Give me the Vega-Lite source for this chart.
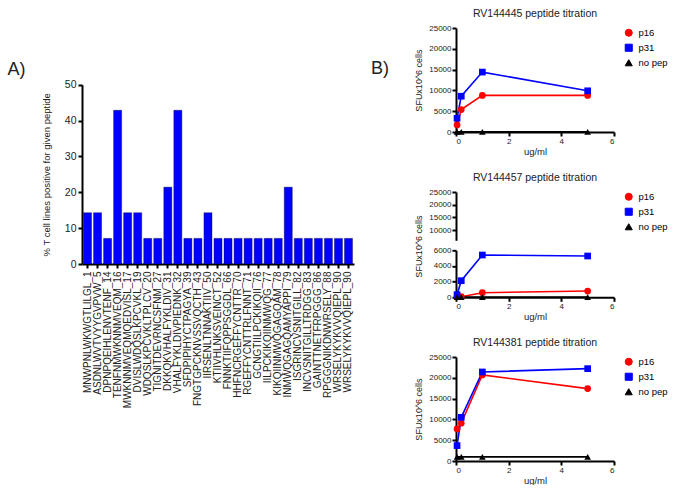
{
  "$schema": "https://vega.github.io/schema/vega-lite/v6.json",
  "padding": {"top": 8, "left": 7, "right": 0, "bottom": 0},
  "config": {
    "font": "Liberation Sans",
    "view": {"stroke": null},
    "axis": {"domainColor": "#000000", "domainWidth": 2, "tickColor": "#000000", "tickWidth": 2, "tickSize": 4, "labelColor": "#222222", "titleColor": "#222222", "titleFontWeight": "normal", "grid": false, "labelFontSize": 8, "titleFontSize": 9, "labelPadding": 1, "titlePadding": 1},
    "title": {"fontSize": 10.5, "fontWeight": "normal", "color": "#222222", "offset": 5},
    "legend": {"labelFontSize": 9.5, "labelColor": "#000000", "title": null, "orient": "right", "offset": 10, "symbolSize": 50, "rowPadding": 3, "labelOffset": 5, "symbolStrokeWidth": 1}
  },
  "datasets": {
    "bars": [
      {"peptide": "MNWPNLWKWGTLILGL_1", "pct": 14.29},
      {"peptide": "ASDNLWVTVYYGVPVW_5", "pct": 14.29},
      {"peptide": "DPNPQEIHLENVTENF_14", "pct": 7.14},
      {"peptide": "TENFNMWKNNMVEQM_16", "pct": 42.86},
      {"peptide": "MWKNNMVEQMQEDVISL_17", "pct": 14.29},
      {"peptide": "DVISLWDQSLKPCVKL_19", "pct": 14.29},
      {"peptide": "WDQSLKPCVKLTPLCV_20", "pct": 7.14},
      {"peptide": "TIGNITDEVRNCSFNM_27", "pct": 7.14},
      {"peptide": "DKKQKVHALFYKLDIV_31", "pct": 21.43},
      {"peptide": "VHALFYKLDIVPIEDNK_32", "pct": 42.86},
      {"peptide": "SFDPIPIHYCTPAGYA_39", "pct": 7.14},
      {"peptide": "FNGTGPCKNVSSVQCTH_43", "pct": 7.14},
      {"peptide": "IIRSENLTNNAKTIIV_50", "pct": 14.29},
      {"peptide": "KTIIVHLNKSVEINCT_52", "pct": 7.14},
      {"peptide": "FNNKTIIFQPPSGGDL_66", "pct": 7.14},
      {"peptide": "HHFNCRGEFFYCNTTR_70", "pct": 7.14},
      {"peptide": "RGEFFYCNTTRLFNNT_71", "pct": 7.14},
      {"peptide": "GCNGTIILPCKIKQII_76", "pct": 7.14},
      {"peptide": "IILPCKIKQIINMWQG_77", "pct": 7.14},
      {"peptide": "KIKQIINMWQGAGQAM_78", "pct": 7.14},
      {"peptide": "INMWQGAGQAMYAPPI_79", "pct": 21.43},
      {"peptide": "ISGRINCVSNITGILL_82", "pct": 7.14},
      {"peptide": "INCVSNITGILLTRDGG_83", "pct": 7.14},
      {"peptide": "GAINTTNETFRPGGG_86", "pct": 7.14},
      {"peptide": "RPGGGNIKDNWRSELY_88", "pct": 7.14},
      {"peptide": "WRSELYKYKVVQIEPL_90", "pct": 7.14},
      {"peptide": " WRSELYKYKVVQIEPL_90", "pct": 7.14}
    ],
    "p1": [
      {"conc": 0.04, "sfu": 1700, "series": "p16"},
      {"conc": 0.2, "sfu": 5400, "series": "p16"},
      {"conc": 1, "sfu": 8800, "series": "p16"},
      {"conc": 5, "sfu": 8800, "series": "p16"},
      {"conc": 0.04, "sfu": 3300, "series": "p31"},
      {"conc": 0.2, "sfu": 8600, "series": "p31"},
      {"conc": 1, "sfu": 14400, "series": "p31"},
      {"conc": 5, "sfu": 9900, "series": "p31"},
      {"conc": 0.04, "sfu": 50, "series": "no pep"},
      {"conc": 0.2, "sfu": 50, "series": "no pep"},
      {"conc": 1, "sfu": 50, "series": "no pep"},
      {"conc": 5, "sfu": 50, "series": "no pep"}
    ],
    "p2": [
      {"conc": 0.04, "sfu": 100, "series": "p16"},
      {"conc": 0.2, "sfu": 80, "series": "p16"},
      {"conc": 1, "sfu": 590, "series": "p16"},
      {"conc": 5, "sfu": 800, "series": "p16"},
      {"conc": 0.04, "sfu": 330, "series": "p31"},
      {"conc": 0.2, "sfu": 2120, "series": "p31"},
      {"conc": 1, "sfu": 5400, "series": "p31"},
      {"conc": 5, "sfu": 5270, "series": "p31"},
      {"conc": 0.04, "sfu": 20, "series": "no pep"},
      {"conc": 0.2, "sfu": 20, "series": "no pep"},
      {"conc": 1, "sfu": 20, "series": "no pep"},
      {"conc": 5, "sfu": 20, "series": "no pep"}
    ],
    "p3": [
      {"conc": 0.04, "sfu": 7700, "series": "p16"},
      {"conc": 0.2, "sfu": 9100, "series": "p16"},
      {"conc": 1, "sfu": 20700, "series": "p16"},
      {"conc": 5, "sfu": 17400, "series": "p16"},
      {"conc": 0.04, "sfu": 3700, "series": "p31"},
      {"conc": 0.2, "sfu": 10500, "series": "p31"},
      {"conc": 1, "sfu": 21400, "series": "p31"},
      {"conc": 5, "sfu": 22200, "series": "p31"},
      {"conc": 0.04, "sfu": 1000, "series": "no pep"},
      {"conc": 0.2, "sfu": 1000, "series": "no pep"},
      {"conc": 1, "sfu": 1000, "series": "no pep"},
      {"conc": 5, "sfu": 1000, "series": "no pep"}
    ]
  },
  "spacing": 17,
  "resolve": {"scale": {"color": "independent", "shape": "independent"}, "legend": {"color": "independent", "shape": "independent"}},
  "hconcat": [
    {
      "width": 272,
      "height": 236,
      "title": {"text": "A)", "fontSize": 18, "anchor": "start", "frame": "group", "offset": -65, "dx": -74.5, "dy": 0, "baseline": "alphabetic"},
      "data": {"name": "bars"},
      "mark": {"type": "bar", "fill": "#0000ff", "stroke": "#000033", "strokeWidth": 0.4},
      "encoding": {
        "x": {"field": "peptide", "type": "nominal", "sort": null, "scale": {"paddingInner": 0.2, "paddingOuter": 0.15}, "axis": {"title": null, "labelAngle": 270, "labelFontSize": 10, "labelPadding": 3}},
        "y": {"field": "pct", "type": "quantitative", "scale": {"domain": [0, 50], "range": [236, 56.7], "nice": false}, "axis": {"values": [0, 10, 20, 30, 40, 50], "title": "% T cell lines positive for given peptide", "titleFontSize": 9.5, "labelFontSize": 10.5, "labelPadding": 2, "titlePadding": 12.5}}
      }
    },
    {
      "title": {"text": "B)", "fontSize": 18, "anchor": "start", "frame": "bounds", "offset": 0, "dx": -43, "dy": 83, "baseline": "alphabetic"},
      "spacing": 16,
      "resolve": {"scale": {"color": "independent", "shape": "independent"}, "legend": {"color": "independent", "shape": "independent"}},
      "vconcat": [
        {
          "width": 158,
          "height": 104,
          "title": {"text": "RV144445 peptide titration"},
          "data": {"name": "p1"},
          "encoding": {
            "x": {"field": "conc", "type": "quantitative", "scale": {"domain": [0, 6], "nice": false}, "axis": {"values": [0, 2, 4, 6], "title": "ug/ml", "titleFontSize": 9.5}},
            "y": {"field": "sfu", "type": "quantitative", "scale": {"domain": [0, 25000], "nice": false}, "axis": {"values": [0, 5000, 10000, 15000, 20000, 25000], "format": "d", "title": "SFUx10^6 cells", "titleX": -33, "titleY": 52}},
            "color": {"field": "series", "type": "nominal", "scale": {"domain": ["p16", "p31", "no pep"], "range": ["#ff0000", "#0000ff", "#000000"]}}
          },
          "layer": [
            {"mark": {"type": "line", "strokeWidth": 1.6}},
            {"mark": {"type": "point", "filled": true, "size": 45, "opacity": 1},
              "encoding": {"shape": {"field": "series", "type": "nominal", "scale": {"domain": ["p16", "p31", "no pep"], "range": ["circle", "square", "triangle-up"]}}}}
          ]
        },
        {
          "bounds": "flush",
          "spacing": 9.3,
          "resolve": {"scale": {"color": "independent", "shape": "independent"}, "legend": {"color": "independent", "shape": "independent"}},
          "vconcat": [
            {
              "width": 158,
              "height": 48.3,
              "title": {"text": "RV144457 peptide titration"},
              "data": {"name": "p2"},
              "transform": [{"filter": "datum.sfu >= 6000"}],
              "encoding": {
                "x": {"field": "conc", "type": "quantitative", "scale": {"domain": [0, 6], "nice": false}, "axis": null},
                "y": {"field": "sfu", "type": "quantitative", "scale": {"domain": [6000, 25000], "nice": false, "zero": false}, "axis": {"values": [10000, 15000, 20000, 25000], "format": "d", "title": null}},
                "color": {"field": "series", "type": "nominal", "scale": {"domain": ["p16", "p31", "no pep"], "range": ["#ff0000", "#0000ff", "#000000"]}}
              },
              "layer": [
                {"mark": {"type": "line", "strokeWidth": 1.6, "clip": true}},
                {"mark": {"type": "point", "filled": true, "size": 45, "opacity": 1, "clip": true},
                  "encoding": {"shape": {"field": "series", "type": "nominal", "scale": {"domain": ["p16", "p31", "no pep"], "range": ["circle", "square", "triangle-up"]}}}}
              ]
            },
            {
              "width": 158,
              "height": 47,
              "data": {"name": "p2"},
              "encoding": {
                "x": {"field": "conc", "type": "quantitative", "scale": {"domain": [0, 6], "nice": false}, "axis": {"values": [0, 2, 4, 6], "title": "ug/ml", "titleFontSize": 9.5}},
                "y": {"field": "sfu", "type": "quantitative", "scale": {"domain": [0, 6000], "nice": false}, "axis": {"values": [0, 2000, 4000, 6000], "format": "d", "title": "SFUx10^6 cells", "titleX": -33, "titleY": -4.3}},
                "color": {"field": "series", "type": "nominal", "scale": {"domain": ["p16", "p31", "no pep"], "range": ["#ff0000", "#0000ff", "#000000"]}, "legend": null}
              },
              "layer": [
                {"mark": {"type": "line", "strokeWidth": 1.6}},
                {"mark": {"type": "point", "filled": true, "size": 45, "opacity": 1},
                  "encoding": {"shape": {"field": "series", "type": "nominal", "scale": {"domain": ["p16", "p31", "no pep"], "range": ["circle", "square", "triangle-up"]}, "legend": null}}}
              ]
            }
          ]
        },
        {
          "width": 158,
          "height": 104,
          "title": {"text": "RV144381 peptide titration"},
          "data": {"name": "p3"},
          "encoding": {
            "x": {"field": "conc", "type": "quantitative", "scale": {"domain": [0, 6], "nice": false}, "axis": {"values": [0, 2, 4, 6], "title": "ug/ml", "titleFontSize": 9.5}},
            "y": {"field": "sfu", "type": "quantitative", "scale": {"domain": [0, 25000], "nice": false}, "axis": {"values": [0, 5000, 10000, 15000, 20000, 25000], "format": "d", "title": "SFUx10^6 cells", "titleX": -33, "titleY": 52}},
            "color": {"field": "series", "type": "nominal", "scale": {"domain": ["p16", "p31", "no pep"], "range": ["#ff0000", "#0000ff", "#000000"]}}
          },
          "layer": [
            {"mark": {"type": "line", "strokeWidth": 1.6}},
            {"mark": {"type": "point", "filled": true, "size": 45, "opacity": 1},
              "encoding": {"shape": {"field": "series", "type": "nominal", "scale": {"domain": ["p16", "p31", "no pep"], "range": ["circle", "square", "triangle-up"]}}}}
          ]
        }
      ]
    }
  ]
}
